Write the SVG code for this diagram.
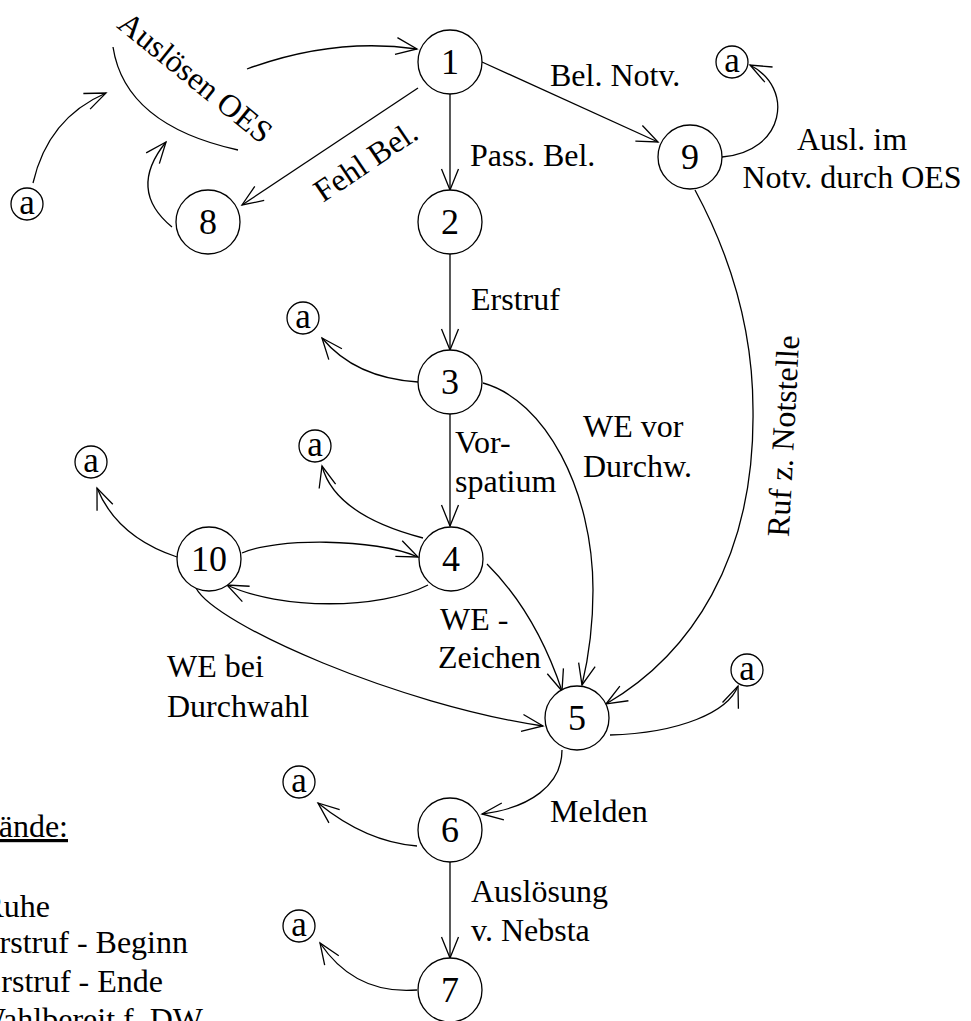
<svg xmlns="http://www.w3.org/2000/svg" width="971" height="1021" viewBox="0 0 971 1021">
<style>
text{font-family:"Liberation Serif","Times New Roman",serif;fill:#000}
.l{font-size:32px}
.d{font-size:36px;text-anchor:middle}
.s{font-size:35px;text-anchor:middle}
.n circle{fill:#fff;stroke:#000;stroke-width:1.3}
.e path{fill:none;stroke:#000;stroke-width:1.3}
.e .a{marker-end:url(#arr)}
.m{text-anchor:middle}
.r{text-anchor:end}
</style>
<defs>
<marker id="arr" markerUnits="userSpaceOnUse" markerWidth="30" markerHeight="30" viewBox="-25 -15 30 30" refX="0" refY="0" orient="auto" overflow="visible">
<path d="M-21,-8.5 L0,0 L-21,8.5" fill="none" stroke="#000" stroke-width="1.3"/>
</marker>
</defs>
<rect width="971" height="1021" fill="#fff"/>

<g id="connectors" class="e">
<path d="M113,47 Q125,125 238,150"/>
<path class="a" d="M247,69 Q334,37 417,49"/>
<path class="a" d="M33,183 Q48,118 106,93"/>
<path class="a" d="M172,227 Q127,190 166,142"/>
<path class="a" d="M418,88 L242,205"/>
<path class="a" d="M450,94 L450,190"/>
<path class="a" d="M482,62 L658,142"/>
<path class="a" d="M722,157 C785,152 795,88 750,65"/>
<path class="a" d="M695,190 C730,255 753,330 753,410 C755,560 690,655 606,704"/>
<path class="a" d="M450,254 L450,350"/>
<path class="a" d="M418,382 Q355,378 322,338"/>
<path class="a" d="M450,414 L450,526"/>
<path class="a" d="M483,383 C545,400 593,490 593,590 C593,630 588,660 582,685"/>
<path class="a" d="M423,538 Q335,515 322,466"/>
<path class="a" d="M177,557 Q117,537 97,488"/>
<path class="a" d="M242,553 C275,538 375,538 418,557"/>
<path class="a" d="M428,585 C380,610 280,610 227,585"/>
<path class="a" d="M196,588 C215,625 400,705 543,726"/>
<path class="a" d="M487,564 Q536,613 562,691"/>
<path class="a" d="M610,735 C680,733 728,712 738,686"/>
<path class="a" d="M562,750 C562,785 530,808 482,814"/>
<path class="a" d="M417,846 Q366,842 318,803"/>
<path class="a" d="M450,862 L450,958"/>
<path class="a" d="M417,990 Q355,995 320,943"/>
</g>

<g id="labels" class="l">
<text transform="translate(195,78) rotate(39)" class="m" y="10">Auslösen OES</text>
<text transform="translate(366,162) rotate(-34)" class="m" y="10">Fehl Bel.</text>
<text x="470" y="166">Pass. Bel.</text>
<text x="550" y="86">Bel. Notv.</text>
<text x="852" y="150" class="m">Ausl. im</text>
<text x="852" y="188" class="m">Notv. durch OES</text>
<text x="471" y="310">Erstruf</text>
<text x="455" y="453">Vor-</text>
<text x="455" y="492">spatium</text>
<text x="583" y="437">WE vor</text>
<text x="583" y="477">Durchw.</text>
<text transform="translate(784,436) rotate(-87)" class="m" y="10">Ruf z. Notstelle</text>
<text x="440" y="630">WE -</text>
<text x="438" y="668">Zeichen</text>
<text x="167" y="677">WE bei</text>
<text x="167" y="717">Durchwahl</text>
<text x="550" y="822">Melden</text>
<text x="471" y="902">Auslösung</text>
<text x="471" y="941">v. Nebsta</text>
</g>

<g id="legend" class="l">
<text x="68" y="837" class="r" text-decoration="underline">Zustände:</text>
<text x="50" y="917" class="r">Ruhe</text>
<text x="188" y="953" class="r">Erstruf - Beginn</text>
<text x="163" y="992" class="r">Erstruf - Ende</text>
<text x="203" y="1030" class="r">Wahlbereit f. DW</text>
</g>

<g id="node1" class="n"><circle cx="450" cy="62" r="32"/><text class="d" x="450" y="74">1</text></g>
<g id="node2" class="n"><circle cx="450" cy="222" r="32"/><text class="d" x="450" y="234">2</text></g>
<g id="node3" class="n"><circle cx="450" cy="382" r="32"/><text class="d" x="450" y="394">3</text></g>
<g id="node4" class="n"><circle cx="451" cy="559" r="32"/><text class="d" x="451" y="571">4</text></g>
<g id="node5" class="n"><circle cx="577" cy="718" r="32"/><text class="d" x="577" y="730">5</text></g>
<g id="node6" class="n"><circle cx="450" cy="830" r="32"/><text class="d" x="450" y="842">6</text></g>
<g id="node7" class="n"><circle cx="450" cy="990" r="32"/><text class="d" x="450" y="1002">7</text></g>
<g id="node8" class="n"><circle cx="208" cy="222" r="32"/><text class="d" x="208" y="234">8</text></g>
<g id="node9" class="n"><circle cx="690" cy="157" r="32"/><text class="d" x="690" y="169">9</text></g>
<g id="node10" class="n"><circle cx="209" cy="559" r="32"/><text class="d" x="209" y="571">10</text></g>

<g id="a_left" class="n"><circle cx="27" cy="204" r="16"/><text class="s" x="27" y="214">a</text></g>
<g id="a_9" class="n"><circle cx="732" cy="62" r="16"/><text class="s" x="732" y="72">a</text></g>
<g id="a_3" class="n"><circle cx="303" cy="318" r="16"/><text class="s" x="303" y="328">a</text></g>
<g id="a_4" class="n"><circle cx="315" cy="446" r="16"/><text class="s" x="315" y="456">a</text></g>
<g id="a_10" class="n"><circle cx="91" cy="462" r="16"/><text class="s" x="91" y="472">a</text></g>
<g id="a_5" class="n"><circle cx="747" cy="670" r="16"/><text class="s" x="747" y="680">a</text></g>
<g id="a_6" class="n"><circle cx="299" cy="782" r="16"/><text class="s" x="299" y="792">a</text></g>
<g id="a_7" class="n"><circle cx="299" cy="926" r="16"/><text class="s" x="299" y="936">a</text></g>
</svg>
